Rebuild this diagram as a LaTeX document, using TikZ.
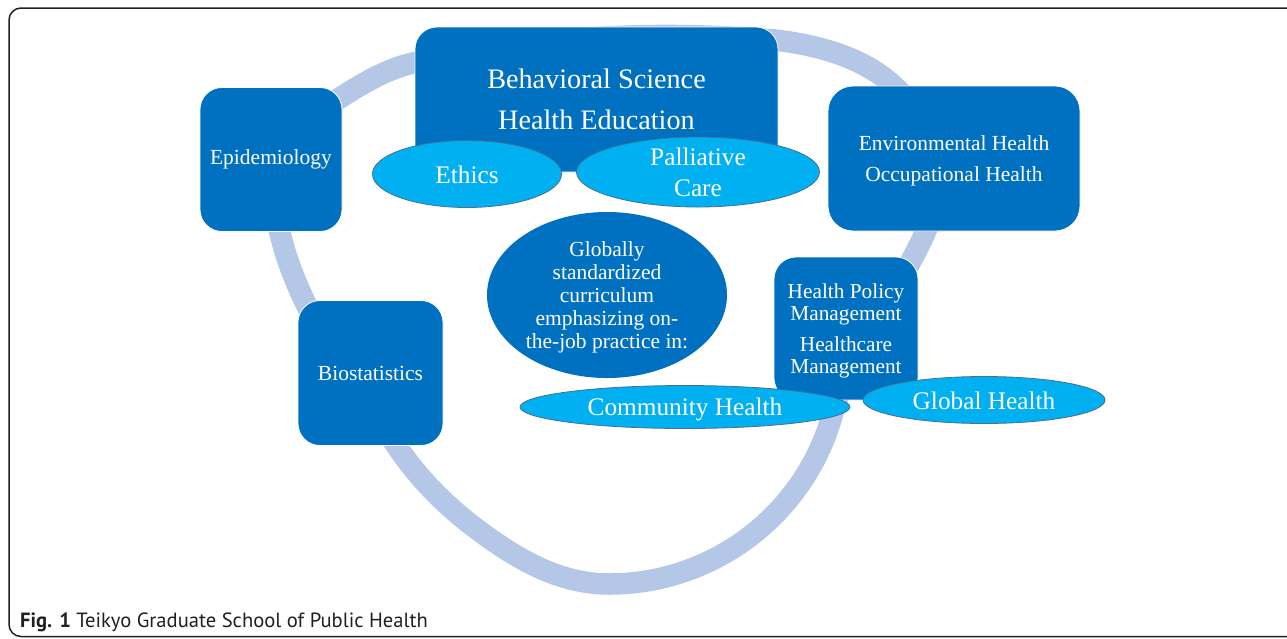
\documentclass[tikz,border=0pt]{standalone}
\usepackage{fontspec}
\setmainfont{Liberation Serif}
\newfontfamily\capfont{PT Sans}
\usetikzlibrary{shapes.geometric}
\definecolor{boxblue}{RGB}{0,112,192}
\definecolor{lightblue}{RGB}{0,176,240}
\definecolor{ringblue}{RGB}{180,199,231}
\definecolor{ellborder}{RGB}{70,110,150}
\definecolor{framecol}{RGB}{35,31,32}
\begin{document}
\begin{tikzpicture}[x=1pt,y=-1pt,
  sbox/.style={draw=white, line width=0.8pt, fill=boxblue, rounded corners=22pt, text=white, align=center, inner sep=0pt},
  sell/.style={ellipse, draw=ellborder, line width=0.8pt, fill=lightblue, text=white, align=center, inner sep=0pt},
  fa/.style={font=\fontsize{21.5}{23}\selectfont},
  fb/.style={font=\fontsize{28.2}{41}\selectfont},
  fc/.style={font=\fontsize{25.3}{31}\selectfont},
  fd/.style={font=\fontsize{21.5}{31}\selectfont},
  fe/.style={font=\fontsize{21.3}{22}\selectfont},
]
\useasboundingbox (0,0) rectangle (1287,638);
\begin{scope}
  \clip (0,0) rectangle (1287,638);
  \draw[framecol, line width=1.5pt, rounded corners=12pt] (9,8) rectangle (1330,636.5);
\end{scope}
% ring
\draw[ringblue, line width=21.5pt] (413,63)
  .. controls (530,36) and (655,30) .. (775,40)
  .. controls (817,45) and (863,57) .. (894,86)
  .. controls (916,107) and (937,135) .. (937,165)
  .. controls (937,188) and (934.4,212) .. (925,233)
  .. controls (897.5,294) and (850.5,348.3) .. (832.9,412.8)
  .. controls (805.5,513.9) and (713.7,584) .. (609,584)
  .. controls (559,584) and (517,559) .. (478,530)
  .. controls (446.8,507) and (417.5,477.4) .. (396,445)
  .. controls (366,400) and (332,356) .. (308,308)
  .. controls (296,284) and (286.1,259) .. (280,233)
  .. controls (274.7,210.7) and (272,188) .. (273,165)
  .. controls (274.6,132) and (315,113.5) .. (343,96)
  .. controls (365,82) and (388,68.7) .. (413,63) -- cycle;
% boxes
\node[sbox, fa, minimum width=142pt, minimum height=144pt] (epi) at (271,159.5) {Epidemiology};
\node[sbox, fa, minimum width=145pt, minimum height=145pt] (bio) at (370.5,373) {Biostatistics};
\node[sbox, fb, minimum width=363pt, minimum height=145pt] (beh) at (596.5,99.5) {Behavioral Science\\Health Education};
\node[sbox, fd, minimum width=252pt, minimum height=145pt, rounded corners=25pt] (env) at (954,158.5) {};
\node[text=white, align=center, fd, inner sep=0pt] (envt) at (954,161) {Environmental Health\\Occupational Health};
\node[sbox, minimum width=144pt, minimum height=143pt] (hp) at (846,328.5) {};
\node[text=white, align=center, fe, inner sep=0pt] (hpt) at (846,330.5) {Health Policy\\Management\\[9pt]Healthcare\\Management};
% ellipses
\node[sell, fc, minimum width=189pt, minimum height=67pt] (eth) at (467,174) {};
\node[text=white, fc, inner sep=0pt] (etht) at (467,175) {Ethics};
\node[sell, fc, minimum width=243pt, minimum height=70pt] (pal) at (698,172) {Palliative\\Care};
\node[ellipse, fill=boxblue, inner sep=0pt, minimum width=240pt, minimum height=166pt] (cen) at (607,295) {};
\node[text=white, align=center, fa, inner sep=0pt] (cent) at (607,297.5) {Globally\\standardized\\curriculum\\emphasizing on-\\the-job practice in:};
\node[sell, minimum width=330pt, minimum height=43pt] (com) at (685,407) {};
\node[text=white, fc, inner sep=0pt] (comt) at (685,409) {Community Health};
\node[sell, minimum width=242pt, minimum height=47pt] (glo) at (984,400) {};
\node[text=white, fc, inner sep=0pt] (glot) at (984,401) {Global Health};
% caption
\node[anchor=base west, inner sep=0pt, text=framecol, font=\capfont\fontsize{20.6}{22}\selectfont] (cap) at (20,627) {\textbf{Fig. 1} Teikyo Graduate School of Public Health};
\end{tikzpicture}
\end{document}
